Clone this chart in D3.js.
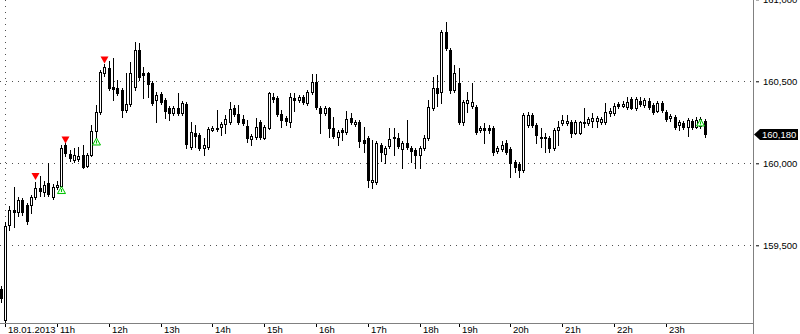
<!DOCTYPE html>
<html>
<head>
<meta charset="utf-8">
<script src="https://cdn.jsdelivr.net/npm/d3@7"></script>
<style>
  body { margin: 0; background: #fff; }
  svg { display: block; font-family: 'Liberation Sans', Arial, sans-serif; }
</style>
</head>
<body>
<div id="chart"></div>
<script>
// 5 minute candles, 18.01.2013, first one is 09:55
const opens = [159233, 159044, 159624, 159715, 159703, 159776, 159745, 159745, 159794, 159849,
  159825, 159880, 159794, 159855, 159861, 160112, 160057, 160020, 160026, 160051,
  159983, 160051, 160197, 160313, 160551, 160581, 160465, 160459, 160447, 160325,
  160362, 160465, 160691, 160551, 160551, 160490, 160386, 160423, 160386, 160337,
  160307, 160337, 160307, 160362, 160099, 160185, 160173, 160093, 160099, 160203,
  160209, 160221, 160240, 160252, 160337, 160301, 160270, 160227, 160148, 160160,
  160252, 160154, 160215, 160404, 160398, 160301, 160276, 160252, 160398, 160386,
  160404, 160368, 160435, 160496, 160337, 160307, 160337, 160215, 160160, 160203,
  160191, 160276, 160240, 160252, 160142, 160154, 159886, 159886, 160112, 160057,
  160105, 160154, 160154, 160087, 160124, 160093, 160081, 160051, 160093, 160154,
  160337, 160459, 160435, 160801, 160691, 160447, 160490, 160252, 160368, 160349,
  160343, 160203, 160215, 160215, 160215, 160075, 160087, 160124, 160087, 160008,
  159996, 159959, 160234, 160295, 160234, 160160, 160160, 160154, 160093, 160203,
  160246, 160246, 160252, 160185, 160185, 160252, 160246, 160258, 160258, 160252,
  160252, 160307, 160307, 160362, 160349, 160343, 160392, 160337, 160380, 160356,
  160380, 160356, 160319, 160368, 160313, 160276, 160282, 160234, 160246, 160221,
  160258, 160221, 160227, 160258];
const highs = [159251, 159642, 159739, 159855, 159794, 159788, 159758, 159807, 159886, 159922,
  159892, 160002, 159874, 159892, 160112, 160124, 160081, 160093, 160099, 160112,
  160063, 160234, 160356, 160569, 160606, 160624, 160642, 160508, 160459, 160551,
  160618, 160740, 160734, 160587, 160557, 160502, 160435, 160435, 160398, 160349,
  160349, 160429, 160380, 160374, 160252, 160234, 160185, 160154, 160221, 160227,
  160325, 160252, 160295, 160374, 160356, 160356, 160295, 160264, 160179, 160276,
  160264, 160234, 160435, 160429, 160410, 160325, 160288, 160429, 160429, 160416,
  160416, 160447, 160545, 160545, 160349, 160349, 160343, 160282, 160203, 160215,
  160319, 160307, 160264, 160264, 160221, 160166, 160142, 160136, 160124, 160105,
  160215, 160215, 160185, 160136, 160264, 160105, 160093, 160105, 160173, 160386,
  160526, 160539, 160813, 160862, 160703, 160600, 160581, 160386, 160435, 160490,
  160356, 160227, 160246, 160234, 160227, 160105, 160136, 160142, 160099, 160020,
  160008, 160307, 160313, 160307, 160246, 160215, 160185, 160166, 160215, 160258,
  160295, 160295, 160264, 160264, 160258, 160337, 160282, 160307, 160288, 160282,
  160368, 160337, 160368, 160374, 160380, 160404, 160404, 160404, 160404, 160398,
  160398, 160368, 160380, 160380, 160325, 160301, 160295, 160264, 160258, 160276,
  160270, 160282, 160282, 160270];
const lows = [159154, 159026, 159593, 159611, 159678, 159684, 159630, 159697, 159782, 159800,
  159800, 159800, 159782, 159843, 159855, 160044, 160014, 160008, 160014, 159971,
  159977, 160044, 160160, 160301, 160532, 160447, 160386, 160416, 160282, 160313,
  160349, 160447, 160508, 160398, 160404, 160356, 160252, 160362, 160276, 160264,
  160295, 160295, 160295, 160093, 160087, 160099, 160081, 160051, 160087, 160197,
  160197, 160173, 160185, 160240, 160288, 160240, 160234, 160130, 160112, 160148,
  160148, 160148, 160209, 160374, 160288, 160221, 160234, 160221, 160319, 160374,
  160362, 160356, 160423, 160331, 160185, 160295, 160160, 160154, 160112, 160142,
  160179, 160240, 160227, 160099, 160069, 159855, 159849, 159874, 160014, 160002,
  160093, 160051, 160093, 159971, 160087, 160008, 159971, 159971, 160081, 160142,
  160325, 160349, 160368, 160691, 160429, 160435, 160240, 160234, 160313, 160337,
  160179, 160191, 160124, 160185, 160051, 160063, 160075, 160057, 159916, 159947,
  159916, 159947, 160221, 160221, 160124, 160099, 160069, 160069, 160081, 160112,
  160234, 160234, 160160, 160179, 160179, 160221, 160234, 160221, 160221, 160240,
  160240, 160288, 160295, 160337, 160343, 160331, 160331, 160325, 160349, 160343,
  160331, 160301, 160313, 160313, 160258, 160258, 160209, 160203, 160209, 160166,
  160209, 160215, 160215, 160160];
const closes = [159178, 159617, 159715, 159703, 159776, 159703, 159648, 159794, 159849, 159831,
  159868, 159813, 159855, 159868, 160093, 160063, 160032, 160051, 160044, 159977,
  160051, 160197, 160313, 160557, 160587, 160459, 160453, 160429, 160325, 160362,
  160551, 160691, 160526, 160539, 160484, 160368, 160416, 160374, 160319, 160307,
  160337, 160307, 160368, 160118, 160191, 160166, 160093, 160112, 160209, 160215,
  160215, 160240, 160270, 160331, 160301, 160252, 160246, 160154, 160166, 160221,
  160160, 160221, 160429, 160392, 160301, 160264, 160258, 160404, 160386, 160404,
  160374, 160435, 160496, 160343, 160307, 160337, 160215, 160166, 160191, 160191,
  160270, 160252, 160252, 160136, 160124, 159898, 159898, 160124, 160069, 160093,
  160148, 160160, 160105, 160124, 160099, 160075, 160051, 160093, 160154, 160343,
  160459, 160429, 160801, 160703, 160447, 160551, 160252, 160374, 160386, 160374,
  160191, 160215, 160203, 160203, 160069, 160093, 160112, 160069, 160002, 159977,
  159959, 160295, 160295, 160234, 160173, 160154, 160154, 160093, 160203, 160221,
  160264, 160258, 160185, 160252, 160252, 160246, 160270, 160276, 160276, 160270,
  160313, 160319, 160349, 160349, 160362, 160374, 160337, 160392, 160362, 160386,
  160343, 160313, 160368, 160325, 160270, 160288, 160221, 160252, 160221, 160264,
  160221, 160264, 160270, 160180];

// candle position of each hour label (one hour after 18h has 3 bars missing)
const hourTicks = [1, 13, 25, 37, 49, 61, 73, 85, 97, 106, 118, 130, 142, 154];
const hourLabels = ['18.01.2013', '11h', '12h', '13h', '14h', '15h', '16h',
  '17h', '18h', '19h', '20h', '21h', '22h', '23h'];
const priceTicks = [159500, 160000, 160500, 161000];

// signal arrows
const sellIdx = [8, 15, 24];
const sellPrice = [159919, 160142, 160630];
const buyIdx = [14, 22, 162];
const buyPrice = [159837, 160133, 160249];

const WIDTH = 800;
const HEIGHT = 334;
const PLOT_RIGHT = 753;
const PLOT_BOTTOM = 323;

const svg = d3.select('#chart').append('svg')
  .attr('width', WIDTH)
  .attr('height', HEIGHT);

const x = d3.scaleLinear().domain([1, 163]).range([5, 704.8]);
const y = d3.scaleLinear().domain([159500, 160500]).range([245.3, 81.3]);

// dotted grid
svg.append('g')
  .selectAll('line')
  .data(priceTicks)
  .join('line')
  .attr('x1', 0)
  .attr('x2', PLOT_RIGHT)
  .attr('y1', (d) => Math.round(y(d)) + 0.5)
  .attr('y2', (d) => Math.round(y(d)) + 0.5)
  .attr('stroke', '#505050')
  .attr('stroke-dasharray', '1,5');

svg.append('line')
  .attr('x1', Math.round(x(hourTicks[0])) + 0.5)
  .attr('x2', Math.round(x(hourTicks[0])) + 0.5)
  .attr('y1', 0)
  .attr('y2', PLOT_BOTTOM)
  .attr('stroke', '#505050')
  .attr('stroke-dasharray', '1,5');

// candles
const gCandles = svg.append('g').attr('class', 'candles');
const idx = d3.range(opens.length);
const cx = (i) => Math.round(x(i));

gCandles.selectAll('line.wick')
  .data(idx)
  .join('line')
  .classed('wick', true)
  .attr('x1', (i) => cx(i) + 0.5)
  .attr('x2', (i) => cx(i) + 0.5)
  .attr('y1', (i) => Math.round(y(highs[i])))
  .attr('y2', (i) => Math.round(y(lows[i])) + 1)
  .attr('stroke', '#000');

gCandles.selectAll('rect.body')
  .data(idx)
  .join('rect')
  .classed('body', true)
  .attr('x', (i) => cx(i) - 0.5)
  .attr('width', 2)
  .attr('y', (i) => Math.round(y(Math.max(opens[i], closes[i]))) + 0.5)
  .attr('height', (i) => Math.max(1, Math.round(y(Math.min(opens[i], closes[i]))) - Math.round(y(Math.max(opens[i], closes[i])))))
  .attr('fill', (i) => (closes[i] >= opens[i] ? '#fff' : '#000'))
  .attr('stroke', '#000');

// sell signals (red, pointing down)
svg.append('g')
  .selectAll('path')
  .data(sellIdx)
  .join('path')
  .attr('transform', (d, k) => 'translate(' + (cx(d) + 0.5) + ',' + y(sellPrice[k]) + ')')
  .attr('d', 'M-4,-3.5L4,-3.5L0,3.5Z')
  .attr('fill', '#ff0000');

// buy signals (green outline, pointing up)
const gBuy = svg.append('g')
  .selectAll('g')
  .data(buyIdx)
  .join('g')
  .attr('transform', (d, k) => 'translate(' + (cx(d) + 0.5) + ',' + y(buyPrice[k]) + ')');
gBuy.append('path')
  .attr('d', 'M-4,3.5L4,3.5L0,-3.5Z')
  .attr('fill', '#e8ffe8')
  .attr('stroke', '#00c000')
  .attr('stroke-width', 1);
gBuy.append('line')
  .attr('x1', 0).attr('x2', 0)
  .attr('y1', -1).attr('y2', 2)
  .attr('stroke', '#00c000');

// axes frame
svg.append('line')
  .attr('x1', 0).attr('x2', PLOT_RIGHT)
  .attr('y1', PLOT_BOTTOM + 0.5).attr('y2', PLOT_BOTTOM + 0.5)
  .attr('stroke', '#808080');
svg.append('line')
  .attr('x1', PLOT_RIGHT + 0.5).attr('x2', PLOT_RIGHT + 0.5)
  .attr('y1', 0).attr('y2', HEIGHT)
  .attr('stroke', '#808080');

// time axis
const xAxis = svg.append('g')
  .attr('transform', 'translate(0,' + (PLOT_BOTTOM + 1) + ')')
  .call(d3.axisBottom(x)
    .tickValues(hourTicks)
    .tickFormat((d, k) => hourLabels[k])
    .tickSize(3));
xAxis.select('.domain').remove();
xAxis.selectAll('.tick')
  .attr('transform', (d) => 'translate(' + (cx(d) + 0.5) + ',0)');
xAxis.selectAll('.tick line').attr('stroke', '#000');
xAxis.selectAll('.tick text')
  .attr('x', 2.5)
  .attr('y', 8.5)
  .attr('dy', null)
  .style('text-anchor', 'start')
  .style('font-size', '9.5px')
  .attr('fill', '#000');

// price axis
const yAxis = svg.append('g')
  .attr('transform', 'translate(' + (PLOT_RIGHT + 3) + ',0)')
  .call(d3.axisRight(y)
    .tickValues(priceTicks)
    .tickFormat(d3.format(','))
    .tickSize(3)
    .tickPadding(4));
yAxis.select('.domain').remove();
yAxis.selectAll('.tick line').attr('stroke', '#000');
yAxis.selectAll('.tick text')
  .style('font-size', '9.5px')
  .attr('fill', '#000');

// last price tag
const last = closes[closes.length - 1];
const ly = Math.round(y(last)) + 0.5;
svg.append('path')
  .attr('d', 'M' + (PLOT_RIGHT + 1) + ',' + ly +
    'L' + (PLOT_RIGHT + 7) + ',' + (ly - 5.5) +
    'L798,' + (ly - 5.5) + 'L798,' + (ly + 5.5) +
    'L' + (PLOT_RIGHT + 7) + ',' + (ly + 5.5) + 'Z')
  .attr('fill', '#000');
svg.append('text')
  .attr('x', 762)
  .attr('y', ly + 3.5)
  .attr('fill', '#fff')
  .style('font-size', '9.5px')
  .text(d3.format(',')(last));
</script>
</body>
</html>
